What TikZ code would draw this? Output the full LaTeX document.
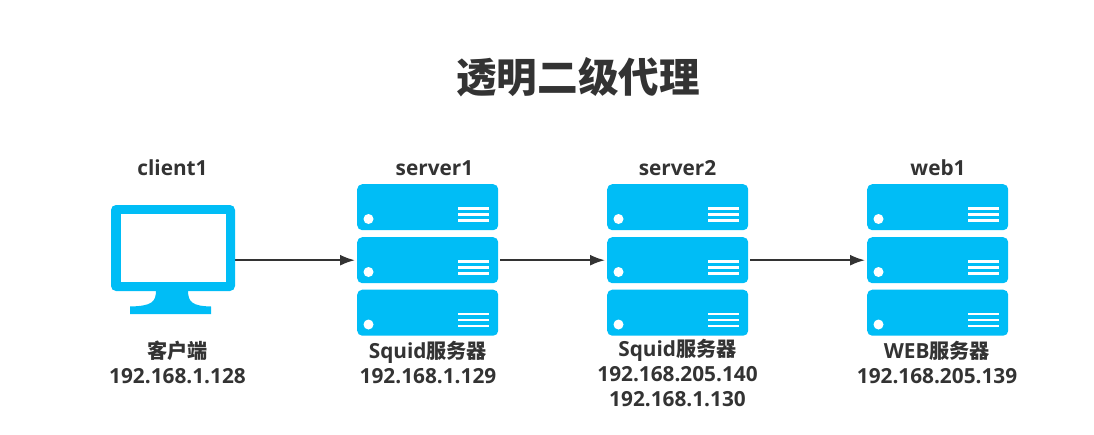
\documentclass[tikz,border=0pt]{standalone}
\usepackage{fontspec}
\setmainfont{Open Sans}
\newfontfamily\cjk[Scale=0.97]{Noto Sans CJK SC}
\usetikzlibrary{arrows.meta}
\pgfdeclarelayer{edgelayer}
\pgfdeclarelayer{nodelayer}
\pgfsetlayers{edgelayer,main,nodelayer}
\definecolor{skyblue}{HTML}{00BDF6}
\definecolor{ink}{HTML}{333333}
\tikzset{font=\fontsize{20.8}{25}\selectfont\bfseries}
\tikzstyle{none}=[inner sep=0pt,text=ink,align=center]
\tikzstyle{title}=[none,font=\fontsize{41.8}{48}\selectfont\bfseries\cjk]
\tikzstyle{unit}=[rectangle,fill=skyblue,rounded corners=5pt,inner sep=0pt,minimum width=141pt,minimum height=46pt]
\tikzstyle{hole}=[circle,fill=white,inner sep=0pt,minimum size=10pt]
\tikzstyle{vent}=[white,line width=2.4pt]
\tikzstyle{link}=[ink,line width=1.9pt,-{Latex[length=15pt,width=11pt]}]

\begin{document}
\begin{tikzpicture}[x=1pt,y=-1pt]
	\useasboundingbox (0,0) rectangle (1094,434);
	\begin{pgfonlayer}{nodelayer}
		\node [style=title] (head) at (578, 77) {透明二级代理};
		\node [style=none] (0) at (172.5, 168) {client1};
		\node [style=none] (1) at (434.5, 168) {server1};
		\node [style=none] (2) at (677.5, 168) {server2};
		\node [style=none] (3) at (938, 168) {web1};
		\node [style=none] (4) at (177.5, 362) {{\cjk 客户端}\\192.168.1.128};
		\node [style=none] (5) at (428, 362) {Squid{\cjk 服务器}\\192.168.1.129};
		\node [style=none] (6) at (677.5, 373) {Squid{\cjk 服务器}\\192.168.205.140\\192.168.1.130};
		\node [style=none] (7) at (937, 362) {WEB{\cjk 服务器}\\192.168.205.139};
	\end{pgfonlayer}
	% monitor
	\node [style=unit, minimum width=124pt, minimum height=86pt] (client1) at (173, 248) {};
	\fill [white] (121, 214) rectangle (225.5, 282);
	\fill [skyblue] (156, 290) .. controls (156, 302) and (152, 306) .. (130, 306.5) -- (130, 314) -- (211, 314) -- (211, 306.5) .. controls (192, 306) and (188, 302) .. (188, 290) -- cycle;
	% racks
	\foreach \rack/\x in {server1/357, server2/607, web1/867} {
		\foreach \row/\y in {a/184, b/237, c/289.5} {
			\node [style=unit, anchor=north west] (\rack\row) at (\x, \y) {};
			\node [style=hole] at (\x+11.5, \y+35) {};
			\foreach \d in {24.5, 30.5, 36.5}
				\draw [style=vent] (\x+101, \y+\d) -- (\x+132, \y+\d);
		}
	}
	\begin{pgfonlayer}{edgelayer}
		\draw [style=link, shorten >=2pt] (client1.east |- server1b.west) to (server1b.west);
		\draw [style=link, shorten <=2pt, shorten >=2pt] (server1b.east) to (server2b.west);
		\draw [style=link, shorten <=2pt, shorten >=2pt] (server2b.east) to (web1b.west);
	\end{pgfonlayer}
\end{tikzpicture}
\end{document}
